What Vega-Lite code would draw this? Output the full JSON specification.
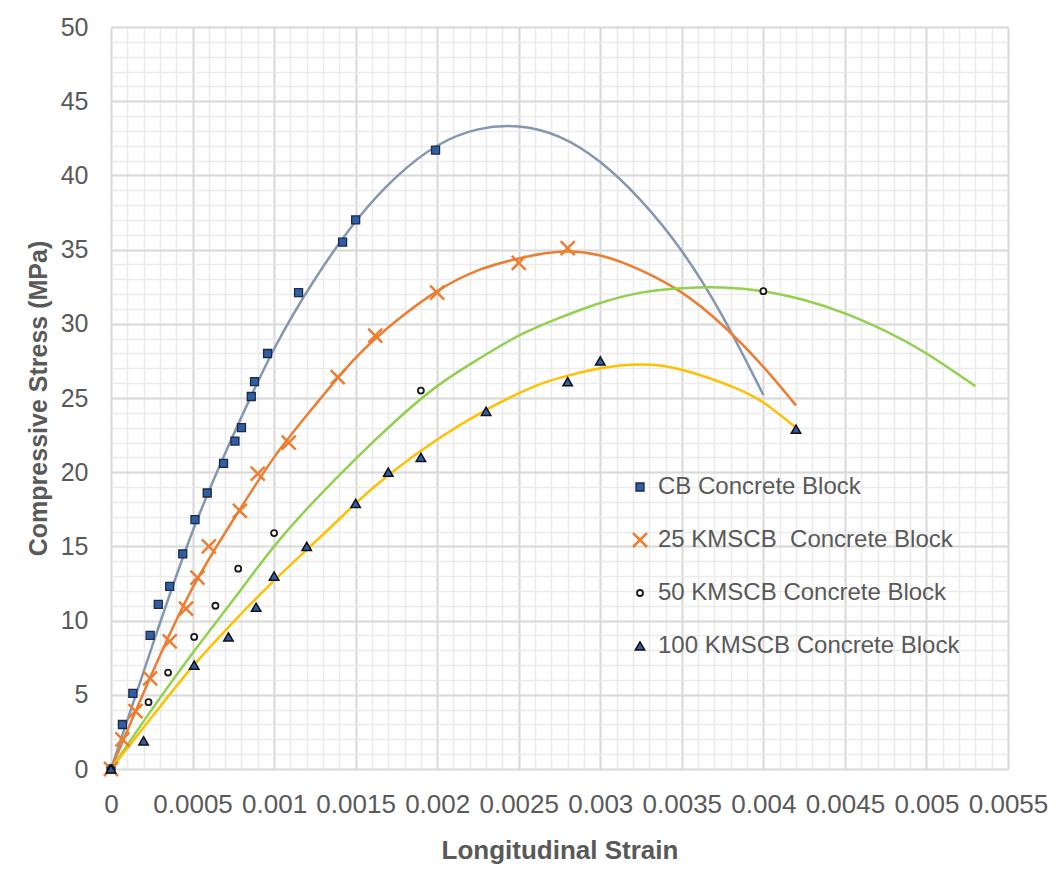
{
  "$schema": "https://vega.github.io/schema/vega-lite/v6.json",
  "width": 897,
  "height": 742,
  "autosize": {"type": "none"},
  "padding": {"left": 111, "top": 27, "right": 48, "bottom": 112},
  "background": "#ffffff",
  "config": {
    "view": {"stroke": null},
    "font": "Liberation Sans"
  },
  "datasets": {
    "curves": [
      {"curve": "CB", "strain": 0, "stress": 0},
      {"curve": "CB", "strain": 0.00025, "stress": 8.2},
      {"curve": "CB", "strain": 0.0005, "stress": 16.0},
      {"curve": "CB", "strain": 0.00075, "stress": 22.5},
      {"curve": "CB", "strain": 0.001, "stress": 28.3},
      {"curve": "CB", "strain": 0.00125, "stress": 33.0},
      {"curve": "CB", "strain": 0.0015, "stress": 36.9},
      {"curve": "CB", "strain": 0.00175, "stress": 39.9},
      {"curve": "CB", "strain": 0.002, "stress": 42.0},
      {"curve": "CB", "strain": 0.00225, "stress": 43.1},
      {"curve": "CB", "strain": 0.0025, "stress": 43.3},
      {"curve": "CB", "strain": 0.00275, "stress": 42.6},
      {"curve": "CB", "strain": 0.003, "stress": 40.9},
      {"curve": "CB", "strain": 0.00325, "stress": 38.3},
      {"curve": "CB", "strain": 0.0035, "stress": 34.9},
      {"curve": "CB", "strain": 0.00375, "stress": 30.5},
      {"curve": "CB", "strain": 0.004, "stress": 25.2},
      {"curve": "25", "strain": 0, "stress": 0},
      {"curve": "25", "strain": 0.00025, "stress": 6.4},
      {"curve": "25", "strain": 0.0005, "stress": 12.2},
      {"curve": "25", "strain": 0.00075, "stress": 16.8},
      {"curve": "25", "strain": 0.001, "stress": 21.0},
      {"curve": "25", "strain": 0.00125, "stress": 24.5},
      {"curve": "25", "strain": 0.0015, "stress": 27.7},
      {"curve": "25", "strain": 0.00175, "stress": 30.2},
      {"curve": "25", "strain": 0.002, "stress": 32.2},
      {"curve": "25", "strain": 0.00225, "stress": 33.6},
      {"curve": "25", "strain": 0.0025, "stress": 34.4},
      {"curve": "25", "strain": 0.00275, "stress": 34.85},
      {"curve": "25", "strain": 0.003, "stress": 34.6},
      {"curve": "25", "strain": 0.00325, "stress": 33.6},
      {"curve": "25", "strain": 0.0035, "stress": 32.1},
      {"curve": "25", "strain": 0.00375, "stress": 29.9},
      {"curve": "25", "strain": 0.004, "stress": 27.1},
      {"curve": "25", "strain": 0.0042, "stress": 24.5},
      {"curve": "50", "strain": 0, "stress": 0},
      {"curve": "50", "strain": 0.00025, "stress": 4.0},
      {"curve": "50", "strain": 0.0005, "stress": 7.8},
      {"curve": "50", "strain": 0.00075, "stress": 11.4},
      {"curve": "50", "strain": 0.001, "stress": 15.0},
      {"curve": "50", "strain": 0.00125, "stress": 18.1},
      {"curve": "50", "strain": 0.0015, "stress": 20.9},
      {"curve": "50", "strain": 0.00175, "stress": 23.5},
      {"curve": "50", "strain": 0.002, "stress": 25.8},
      {"curve": "50", "strain": 0.00225, "stress": 27.6},
      {"curve": "50", "strain": 0.0025, "stress": 29.2},
      {"curve": "50", "strain": 0.00275, "stress": 30.4},
      {"curve": "50", "strain": 0.003, "stress": 31.4},
      {"curve": "50", "strain": 0.00325, "stress": 32.1},
      {"curve": "50", "strain": 0.0035, "stress": 32.4},
      {"curve": "50", "strain": 0.00375, "stress": 32.45},
      {"curve": "50", "strain": 0.004, "stress": 32.2},
      {"curve": "50", "strain": 0.00425, "stress": 31.6},
      {"curve": "50", "strain": 0.0045, "stress": 30.7},
      {"curve": "50", "strain": 0.00475, "stress": 29.5},
      {"curve": "50", "strain": 0.005, "stress": 28.0},
      {"curve": "50", "strain": 0.0053, "stress": 25.8},
      {"curve": "100", "strain": 0, "stress": 0},
      {"curve": "100", "strain": 0.00025, "stress": 3.5},
      {"curve": "100", "strain": 0.0005, "stress": 6.9},
      {"curve": "100", "strain": 0.00075, "stress": 9.9},
      {"curve": "100", "strain": 0.001, "stress": 12.7},
      {"curve": "100", "strain": 0.0013, "stress": 15.8},
      {"curve": "100", "strain": 0.0015, "stress": 17.9},
      {"curve": "100", "strain": 0.0017, "stress": 19.8},
      {"curve": "100", "strain": 0.002, "stress": 22.2},
      {"curve": "100", "strain": 0.0023, "stress": 24.2},
      {"curve": "100", "strain": 0.0026, "stress": 25.8},
      {"curve": "100", "strain": 0.0028, "stress": 26.5},
      {"curve": "100", "strain": 0.003, "stress": 27.0},
      {"curve": "100", "strain": 0.00325, "stress": 27.25},
      {"curve": "100", "strain": 0.0035, "stress": 26.9},
      {"curve": "100", "strain": 0.0038, "stress": 25.8},
      {"curve": "100", "strain": 0.004, "stress": 24.7},
      {"curve": "100", "strain": 0.0042, "stress": 23.0}
    ],
    "points": [
      {"series": "CB Concrete Block", "strain": 0, "stress": 0},
      {"series": "CB Concrete Block", "strain": 0.00007, "stress": 3.0},
      {"series": "CB Concrete Block", "strain": 0.000134, "stress": 5.1},
      {"series": "CB Concrete Block", "strain": 0.00024, "stress": 9.0},
      {"series": "CB Concrete Block", "strain": 0.00029, "stress": 11.1},
      {"series": "CB Concrete Block", "strain": 0.00036, "stress": 12.3},
      {"series": "CB Concrete Block", "strain": 0.00044, "stress": 14.5},
      {"series": "CB Concrete Block", "strain": 0.000515, "stress": 16.8},
      {"series": "CB Concrete Block", "strain": 0.00059, "stress": 18.6},
      {"series": "CB Concrete Block", "strain": 0.00069, "stress": 20.6},
      {"series": "CB Concrete Block", "strain": 0.00076, "stress": 22.1},
      {"series": "CB Concrete Block", "strain": 0.0008, "stress": 23.0},
      {"series": "CB Concrete Block", "strain": 0.00086, "stress": 25.1},
      {"series": "CB Concrete Block", "strain": 0.00088, "stress": 26.1},
      {"series": "CB Concrete Block", "strain": 0.00096, "stress": 28.0},
      {"series": "CB Concrete Block", "strain": 0.00115, "stress": 32.1},
      {"series": "CB Concrete Block", "strain": 0.00142, "stress": 35.5},
      {"series": "CB Concrete Block", "strain": 0.0015, "stress": 37.0},
      {"series": "CB Concrete Block", "strain": 0.00199, "stress": 41.7},
      {"series": "25 KMSCB\u00a0 Concrete Block", "strain": 0, "stress": 0},
      {"series": "25 KMSCB\u00a0 Concrete Block", "strain": 0.00007, "stress": 2.0},
      {"series": "25 KMSCB\u00a0 Concrete Block", "strain": 0.00015, "stress": 3.9},
      {"series": "25 KMSCB\u00a0 Concrete Block", "strain": 0.00024, "stress": 6.1},
      {"series": "25 KMSCB\u00a0 Concrete Block", "strain": 0.00036, "stress": 8.6},
      {"series": "25 KMSCB\u00a0 Concrete Block", "strain": 0.00046, "stress": 10.8},
      {"series": "25 KMSCB\u00a0 Concrete Block", "strain": 0.00053, "stress": 12.9},
      {"series": "25 KMSCB\u00a0 Concrete Block", "strain": 0.0006, "stress": 15.0},
      {"series": "25 KMSCB\u00a0 Concrete Block", "strain": 0.00079, "stress": 17.4},
      {"series": "25 KMSCB\u00a0 Concrete Block", "strain": 0.0009, "stress": 19.9},
      {"series": "25 KMSCB\u00a0 Concrete Block", "strain": 0.00109, "stress": 22.0},
      {"series": "25 KMSCB\u00a0 Concrete Block", "strain": 0.00139, "stress": 26.4},
      {"series": "25 KMSCB\u00a0 Concrete Block", "strain": 0.00162, "stress": 29.2},
      {"series": "25 KMSCB\u00a0 Concrete Block", "strain": 0.002, "stress": 32.1},
      {"series": "25 KMSCB\u00a0 Concrete Block", "strain": 0.0025, "stress": 34.1},
      {"series": "25 KMSCB\u00a0 Concrete Block", "strain": 0.0028, "stress": 35.1},
      {"series": "50 KMSCB Concrete Block", "strain": 0, "stress": 0},
      {"series": "50 KMSCB Concrete Block", "strain": 0.00023, "stress": 4.5},
      {"series": "50 KMSCB Concrete Block", "strain": 0.00035, "stress": 6.5},
      {"series": "50 KMSCB Concrete Block", "strain": 0.00051, "stress": 8.9},
      {"series": "50 KMSCB Concrete Block", "strain": 0.00064, "stress": 11.0},
      {"series": "50 KMSCB Concrete Block", "strain": 0.00078, "stress": 13.5},
      {"series": "50 KMSCB Concrete Block", "strain": 0.001, "stress": 15.9},
      {"series": "50 KMSCB Concrete Block", "strain": 0.0019, "stress": 25.5},
      {"series": "50 KMSCB Concrete Block", "strain": 0.004, "stress": 32.2},
      {"series": "100 KMSCB Concrete Block", "strain": 0, "stress": 0},
      {"series": "100 KMSCB Concrete Block", "strain": 0.0002, "stress": 1.9},
      {"series": "100 KMSCB Concrete Block", "strain": 0.00051, "stress": 7.0},
      {"series": "100 KMSCB Concrete Block", "strain": 0.00072, "stress": 8.9},
      {"series": "100 KMSCB Concrete Block", "strain": 0.00089, "stress": 10.9},
      {"series": "100 KMSCB Concrete Block", "strain": 0.001, "stress": 13.0},
      {"series": "100 KMSCB Concrete Block", "strain": 0.0012, "stress": 15.0},
      {"series": "100 KMSCB Concrete Block", "strain": 0.0015, "stress": 17.9},
      {"series": "100 KMSCB Concrete Block", "strain": 0.0017, "stress": 20.0},
      {"series": "100 KMSCB Concrete Block", "strain": 0.0019, "stress": 21.0},
      {"series": "100 KMSCB Concrete Block", "strain": 0.0023, "stress": 24.1},
      {"series": "100 KMSCB Concrete Block", "strain": 0.0028, "stress": 26.1},
      {"series": "100 KMSCB Concrete Block", "strain": 0.003, "stress": 27.5},
      {"series": "100 KMSCB Concrete Block", "strain": 0.0042, "stress": 22.9}
    ]
  },
  "layer": [
    {
      "data": {"name": "curves"},
      "mark": {"type": "line", "strokeWidth": 2.5, "interpolate": "natural"},
      "encoding": {
        "x": {
          "field": "strain", "type": "quantitative",
          "scale": {"domain": [0, 0.0055], "nice": false, "zero": false},
          "axis": {
            "orient": "bottom", "title": null, "labels": false, "ticks": false, "domain": false,
            "grid": true, "gridColor": "#ebebeb", "gridWidth": 1.5,
            "values": [0,0.0001,0.0002,0.0003,0.0004,0.0005,0.0006,0.0007,0.0008,0.0009,0.001,0.0011,0.0012,0.0013,0.0014,0.0015,0.0016,0.0017,0.0018,0.0019,0.002,0.0021,0.0022,0.0023,0.0024,0.0025,0.0026,0.0027,0.0028,0.0029,0.003,0.0031,0.0032,0.0033,0.0034,0.0035,0.0036,0.0037,0.0038,0.0039,0.004,0.0041,0.0042,0.0043,0.0044,0.0045,0.0046,0.0047,0.0048,0.0049,0.005,0.0051,0.0052,0.0053,0.0054,0.0055]
          }
        },
        "y": {
          "field": "stress", "type": "quantitative",
          "scale": {"domain": [0, 50], "nice": false},
          "axis": {
            "orient": "left", "title": null, "labels": false, "ticks": false, "domain": false,
            "grid": true, "gridColor": "#ebebeb", "gridWidth": 1.5,
            "values": [0,1,2,3,4,5,6,7,8,9,10,11,12,13,14,15,16,17,18,19,20,21,22,23,24,25,26,27,28,29,30,31,32,33,34,35,36,37,38,39,40,41,42,43,44,45,46,47,48,49,50]
          }
        },
        "color": {
          "field": "curve", "type": "nominal",
          "scale": {
            "domain": ["CB", "25", "50", "100"],
            "range": ["#8497b0", "#ed7d31", "#92d050", "#ffc000"]
          },
          "legend": null
        }
      }
    },
    {
      "data": {"name": "points"},
      "mark": {"type": "point", "opacity": 1, "filled": false},
      "encoding": {
        "x": {
          "field": "strain", "type": "quantitative",
          "axis": {
            "orient": "bottom", "title": "Longitudinal Strain",
            "values": [0,0.0005,0.001,0.0015,0.002,0.0025,0.003,0.0035,0.004,0.0045,0.005,0.0055],
            "format": ".4~f", "ticks": false, "domain": false,
            "grid": true, "gridColor": "#d9d9d9", "gridWidth": 2,
            "labelFont": "Liberation Sans", "labelFontSize": 26, "labelColor": "#595959", "labelPadding": 22,
            "labelOverlap": false, "labelFlush": false,
            "titleFont": "Liberation Sans", "titleFontSize": 26, "titleFontWeight": "bold", "titleColor": "#595959", "titlePadding": 20
          }
        },
        "y": {
          "field": "stress", "type": "quantitative",
          "axis": {
            "orient": "left", "title": "Compressive Stress (MPa)",
            "values": [0,5,10,15,20,25,30,35,40,45,50],
            "format": "d", "ticks": false, "domain": false,
            "grid": true, "gridColor": "#d9d9d9", "gridWidth": 2,
            "labelFont": "Liberation Sans", "labelFontSize": 25, "labelColor": "#595959", "labelPadding": 23,
            "labelOverlap": false,
            "titleFont": "Liberation Sans", "titleFontSize": 25, "titleFontWeight": "bold", "titleColor": "#595959", "titlePadding": 9
          }
        },
        "shape": {
          "field": "series", "type": "nominal",
          "scale": {
            "type": "ordinal",
            "domain": ["CB Concrete Block", "25 KMSCB\u00a0 Concrete Block", "50 KMSCB Concrete Block", "100 KMSCB Concrete Block"],
            "range": ["square", "M-1,-1L1,1M-1,1L1,-1", "circle", "triangle-up"]
          },
          "legend": {
            "title": null,
            "orient": "none", "legendX": 517, "legendY": 448, "padding": 0,
            "labelFont": "Liberation Sans", "labelFontSize": 24, "labelColor": "#595959",
            "labelOffset": 6, "labelLimit": 500, "rowPadding": 29
          }
        },
        "fill": {
          "field": "series", "type": "nominal",
          "scale": {
            "type": "ordinal",
            "domain": ["CB Concrete Block", "25 KMSCB\u00a0 Concrete Block", "50 KMSCB Concrete Block", "100 KMSCB Concrete Block"],
            "range": ["#2f5da6", "transparent", "#ffffff", "#2f5da6"]
          }
        },
        "stroke": {
          "field": "series", "type": "nominal",
          "scale": {
            "type": "ordinal",
            "domain": ["CB Concrete Block", "25 KMSCB\u00a0 Concrete Block", "50 KMSCB Concrete Block", "100 KMSCB Concrete Block"],
            "range": ["#1c2a42", "#ed7d31", "#1a1a1a", "#111111"]
          }
        },
        "size": {
          "field": "series", "type": "nominal",
          "scale": {
            "type": "ordinal",
            "domain": ["CB Concrete Block", "25 KMSCB\u00a0 Concrete Block", "50 KMSCB Concrete Block", "100 KMSCB Concrete Block"],
            "range": [64, 196, 36, 90]
          }
        },
        "strokeWidth": {
          "field": "series", "type": "nominal",
          "scale": {
            "type": "ordinal",
            "domain": ["CB Concrete Block", "25 KMSCB\u00a0 Concrete Block", "50 KMSCB Concrete Block", "100 KMSCB Concrete Block"],
            "range": [1.3, 2.5, 1.8, 1.5]
          }
        }
      }
    }
  ],
  "resolve": {"axis": {"x": "independent", "y": "independent"}}
}
